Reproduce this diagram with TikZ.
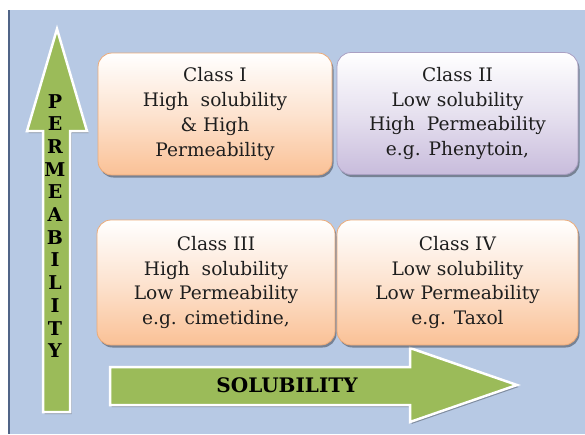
\documentclass[tikz,border=0pt]{standalone}
\usepackage{fontspec}
\setmainfont{DejaVu Serif}
\usetikzlibrary{shadows}
\definecolor{bgblue}{RGB}{183,201,228}
\definecolor{edgeblue}{RGB}{80,100,135}
\definecolor{arrowgreen}{RGB}{155,187,89}
\definecolor{peach}{RGB}{250,193,150}
\definecolor{peachedge}{RGB}{236,170,120}
\definecolor{lavender}{RGB}{200,188,220}
\definecolor{lavedge}{RGB}{170,160,195}
\definecolor{txt}{RGB}{30,30,30}
\tikzset{
  classbox/.style={rounded corners=14pt, minimum width=234pt, minimum height=122pt,
    align=center, text=txt, line width=0.8pt,
    font=\fontsize{18.6}{24.7}\selectfont,
    drop shadow={shadow xshift=1.5pt, shadow yshift=-2.5pt, fill=black, opacity=0.35}},
  peachbox/.style={classbox, draw=peachedge, top color=white, bottom color=peach, middle color=peach!45!white},
  lavbox/.style={classbox, draw=lavedge, top color=white, bottom color=lavender, middle color=lavender!45!white},
  bigarrow/.style={fill=arrowgreen, draw=white, line width=2.5pt, line join=miter,
    drop shadow={shadow xshift=1.5pt, shadow yshift=-2pt, fill=black, opacity=0.3}},
  arrowtext/.style={font=\bfseries, text=black}
}
\begin{document}
\begin{tikzpicture}[x=1pt, y=-1pt]
\useasboundingbox (0,0) rectangle (585,434);
\fill[white] (0,0) rectangle (585,434);
\fill[bgblue] (10,10) rectangle (585,434);
\fill[edgeblue] (8,10) rectangle (10,434);
% vertical arrow
\draw[bigarrow] (57,29) -- (87,131) -- (70,131) -- (70,412) -- (43,412) -- (43,131) -- (27,131) -- cycle;
\node[arrowtext, align=center, font=\bfseries\fontsize{19}{22.7}\selectfont] (perm) at (55,226)
  {P\\E\\R\\M\\E\\A\\B\\I\\L\\I\\T\\Y};
% horizontal arrow
\draw[bigarrow] (110,367) -- (410,367) -- (410,348) -- (517,385) -- (410,422) -- (410,405) -- (110,405) -- cycle;
\node[arrowtext, font=\bfseries\fontsize{20}{24}\selectfont] (sol) at (287,385) {SOLUBILITY};
% class boxes
\node[peachbox] (c1) at (215,114) {Class I\\High~ solubility\\\& High\\Permeability};
\node[lavbox, minimum width=241pt] (c2) at (457.5,113.5) {Class II\\Low solubility\\High~ Permeability\\e.g. Phenytoin,};
\node[peachbox, minimum width=238pt, minimum height=125pt] (c3) at (216,282.5) {Class III\\High~ solubility\\Low Permeability\\e.g. cimetidine,};
\node[peachbox, minimum width=241pt, minimum height=125pt] (c4) at (457.5,282.5) {Class IV\\Low solubility\\Low Permeability\\e.g. Taxol};
\end{tikzpicture}
\end{document}
